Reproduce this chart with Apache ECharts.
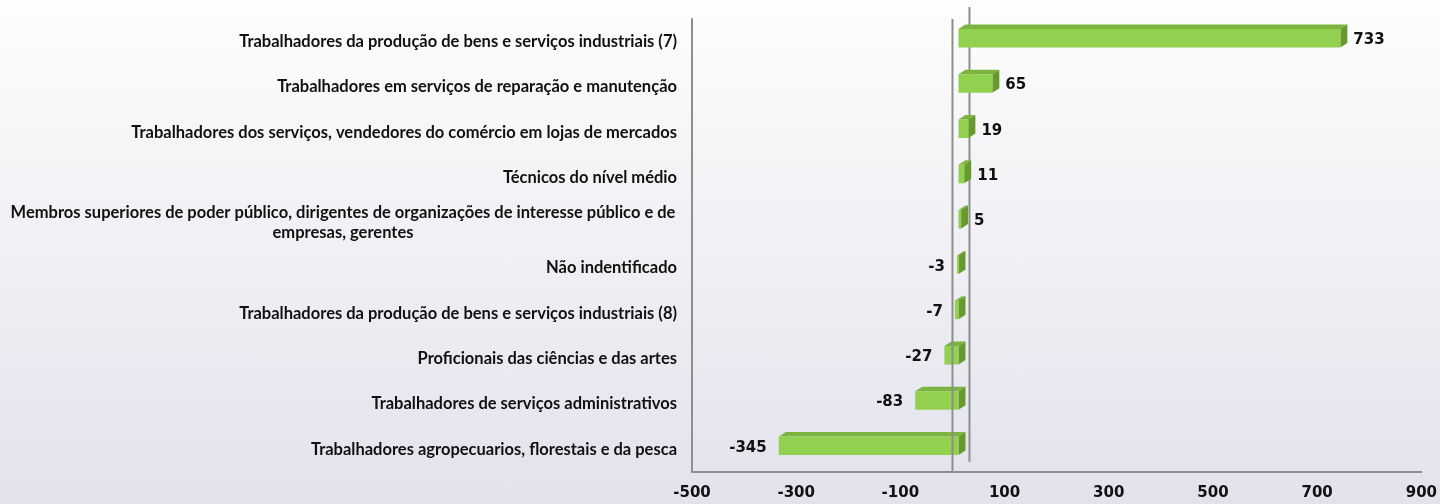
<!DOCTYPE html>
<html>
<head>
<meta charset="utf-8">
<script src="https://cdn.jsdelivr.net/npm/echarts@6/dist/echarts.min.js"></script>
<style>
    html, body { margin: 0; padding: 0; }
    body { background: linear-gradient(#fdfdfd, #e2e2ec); }
    #chart { width: 1440px; height: 504px; }
</style>
</head>
<body>
<div id="chart"></div>
<script>
const categories = [
    'Trabalhadores da produção de bens e serviços industriais (7)',
    'Trabalhadores em serviços de reparação e manutenção',
    'Trabalhadores dos serviços, vendedores do comércio em lojas de mercados',
    'Técnicos do nível médio',
    'Membros superiores de poder público, dirigentes de organizações de interesse público e de\nempresas, gerentes',
    'Não indentificado',
    'Trabalhadores da produção de bens e serviços industriais (8)',
    'Proficionais das ciências e das artes',
    'Trabalhadores de serviços administrativos',
    'Trabalhadores agropecuarios, florestais e da pesca'
];
const values = [733, 65, 19, 11, 5, -3, -7, -27, -83, -345];
const axisMin = -500;
const axisMax = 900;
const axisStep = 200;

// fake 3d look
const FRONT_X = 6, FRONT_Y = -3.5;
const DEPTH_X = 7, DEPTH_Y = 4.5;
const BAR_H = 18.5;
const WALL_X = 17, WALL_Y = 11;

function renderBar(params, api) {
    const idx = api.value(0);
    const val = api.value(1);
    const end = api.coord([val, idx]);
    const start = api.coord([0, idx]);
    const x1 = Math.min(start[0], end[0]) + FRONT_X;
    const x2 = Math.max(start[0], end[0]) + FRONT_X;
    const cy = end[1] + FRONT_Y;
    const y1 = cy - BAR_H / 2;
    const y2 = cy + BAR_H / 2;
    const positive = val >= 0;
    return {
        type: 'group',
        children: [
            {
                type: 'polygon',
                shape: { points: [[x1, y1], [x2, y1], [x2 + DEPTH_X, y1 - DEPTH_Y], [x1 + DEPTH_X, y1 - DEPTH_Y]] },
                style: { fill: '#7db43f' }
            },
            {
                type: 'polygon',
                shape: { points: [[x2, y1], [x2 + DEPTH_X, y1 - DEPTH_Y], [x2 + DEPTH_X, y2 - DEPTH_Y], [x2, y2]] },
                style: { fill: '#68992e' }
            },
            {
                type: 'rect',
                shape: { x: x1, y: y1, width: x2 - x1, height: BAR_H },
                style: { fill: '#92d050' }
            },
            {
                type: 'text',
                style: {
                    text: String(val),
                    x: positive ? x2 + DEPTH_X + 6 : x1 - 12,
                    y: cy + 2,
                    align: positive ? 'left' : 'right',
                    verticalAlign: 'middle',
                    font: 'bold 15px "DejaVu Sans"',
                    fill: '#111'
                }
            }
        ]
    };
}

function renderZeroLine(back) {
    return function (params, api) {
        const top = api.coord([0, 0]);
        const x = top[0] + (back ? WALL_X : 0);
        const yTop = params.coordSys.y - (back ? WALL_Y + 1 : 0);
        const yBot = params.coordSys.y + params.coordSys.height - (back ? 10 : 0);
        return {
            type: 'line',
            shape: { x1: x, y1: yTop, x2: x, y2: yBot },
            style: { stroke: '#8e8e8e', lineWidth: 2 }
        };
    };
}

const barData = values.map((v, i) => [i, v]);

const chart = echarts.init(document.getElementById('chart'));
chart.setOption({
    backgroundColor: 'transparent',
    animation: false,
    grid: { left: 692, right: 16, top: 19, bottom: 32 },
    xAxis: {
        type: 'value',
        min: axisMin,
        max: axisMax,
        interval: axisStep,
        splitLine: { show: false },
        axisTick: { show: false },
        axisLine: { show: true, lineStyle: { color: '#8e8e8e', width: 2 } },
        axisLabel: {
            margin: 14,
            fontFamily: 'DejaVu Sans',
            fontWeight: 'bold',
            fontSize: 15,
            color: '#111'
        }
    },
    yAxis: {
        type: 'category',
        inverse: true,
        data: categories,
        axisTick: { show: false },
        axisLine: { show: true, onZero: false, lineStyle: { color: '#8e8e8e', width: 2 } },
        axisLabel: {
            margin: 15,
            fontFamily: 'Lato',
            fontWeight: 'bold',
            fontSize: 16.5,
            color: '#111',
            lineHeight: 20,
            formatter: function (label) {
                if (label.indexOf('\n') < 0) return label;
                return label.split('\n').map(s => '{w|' + s + '}').join('\n');
            },
            rich: {
                w: {
                    width: 668,
                    align: 'center',
                    fontFamily: 'Lato',
                    fontWeight: 'bold',
                    fontSize: 16.5,
                    lineHeight: 20,
                    color: '#111'
                }
            }
        }
    },
    series: [
        {
            type: 'custom',
            z: 1,
            renderItem: renderZeroLine(true),
            data: [[0, 0]],
            encode: { x: 0, y: 1 },
            silent: true
        },
        {
            type: 'custom',
            z: 2,
            renderItem: renderBar,
            data: barData,
            encode: { x: 1, y: 0 }
        },
        {
            type: 'custom',
            z: 3,
            renderItem: renderZeroLine(false),
            data: [[0, 0]],
            encode: { x: 0, y: 1 },
            silent: true
        }
    ]
});
</script>
</body>
</html>
